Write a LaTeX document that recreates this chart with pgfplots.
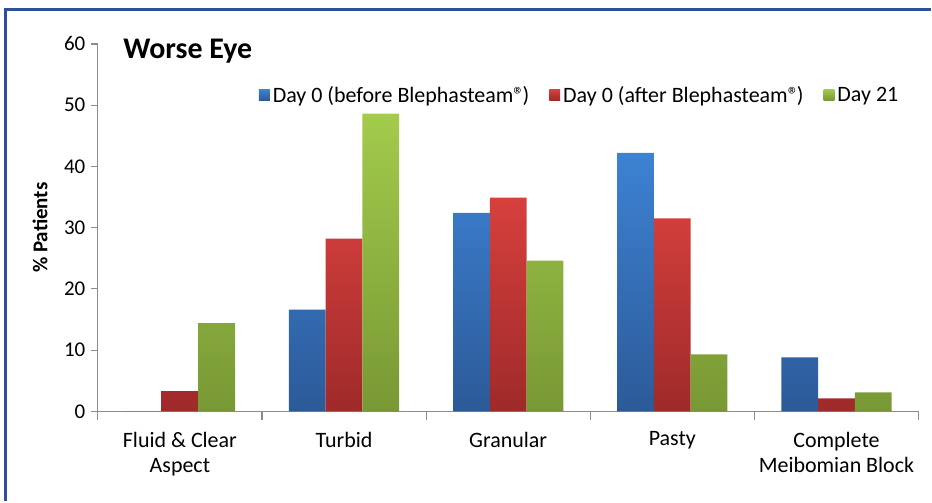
\documentclass[border=0pt]{standalone}
\usepackage{pgfplots}
\pgfplotsset{compat=1.18}
\usepackage{fontspec}
\setmainfont{Carlito}
\definecolor{frameblue}{HTML}{2E4F9E}
\definecolor{axgray}{HTML}{8C8C8C}
\definecolor{bT}{HTML}{3D82D3}
\definecolor{bB}{HTML}{2C5A98}
\definecolor{rT}{HTML}{D6403D}
\definecolor{rB}{HTML}{9E2A29}
\definecolor{gT}{HTML}{A3CB4C}
\definecolor{gB}{HTML}{789834}
\begin{document}
\begin{tikzpicture}[x=1pt,y=1pt]
\path (0,0) rectangle (932,502);
\draw[frameblue, line width=3pt] (6,0) -- (6,492) -- (932,492);
\begin{axis}[
  at={(98pt,90pt)}, anchor=south west,
  scale only axis, width=822pt, height=368pt,
  xmin=-0.5, xmax=4.5, ymin=0, ymax=60,
  ybar=0pt, bar width=0.224,
  axis x line*=bottom, axis y line*=left,
  axis line style={axgray, line width=1.2pt},
  every tick/.style={axgray, line width=1.2pt},
  tick align=outside,
  major tick length=7pt,
  xtick={0,1,2,3,4},
  x tick style={draw=none},
  minor xtick={-0.5,0.5,1.5,2.5,3.5,4.5},
  minor x tick style={draw=axgray, line width=1.2pt},
  minor tick length=9pt,
  xticklabels={{Fluid \& Clear\\Aspect},{Turbid},{Granular},{Pasty},{Complete\\Meibomian Block}},
  xticklabel style={align=center, font=\fontsize{22}{25}\selectfont, yshift=-10pt},
  ytick={0,10,...,60},
  yticklabel style={font=\fontsize{21}{24}\selectfont, xshift=-2pt},
  /pgf/number format/assume math mode=true,
  ylabel={\textbf{\% Patients}},
  ylabel style={font=\fontsize{21}{24}\selectfont, at={(axis description cs:-0.0705,0.5)}, anchor=center},
  legend style={draw=none, fill=none, at={(rel axis cs:0.5876,0.8614)}, anchor=center,
    legend columns=3, font=\fontsize{22}{25}\selectfont, inner xsep=0pt,
    nodes={inner xsep=3pt},
    /tikz/every even column/.append style={column sep=17pt}},
  legend image code/.code={\path[#1, draw=none] (0pt,-5.5pt) rectangle (11pt,5.5pt);},
  clip=false,
]
\addplot[draw=none, top color=bT, bottom color=bB] coordinates {(0,0) (1,16.6) (2,32.4) (3,42.2) (4,8.8)};
\addplot[draw=none, top color=rT, bottom color=rB] coordinates {(0,3.3) (1,28.2) (2,34.9) (3,31.5) (4,2.1)};
\addplot[draw=none, top color=gT, bottom color=gB] coordinates {(0,14.4) (1,48.6) (2,24.6) (3,9.3) (4,3.1)};
\legend{Day 0 (before Blephasteam®\kern-2pt),Day 0 (after Blephasteam®\kern-2pt),Day 21}
\end{axis}
\node[anchor=west, font=\fontsize{30}{34}\selectfont\bfseries] at (120,451) {Worse Eye};
\end{tikzpicture}
\end{document}
